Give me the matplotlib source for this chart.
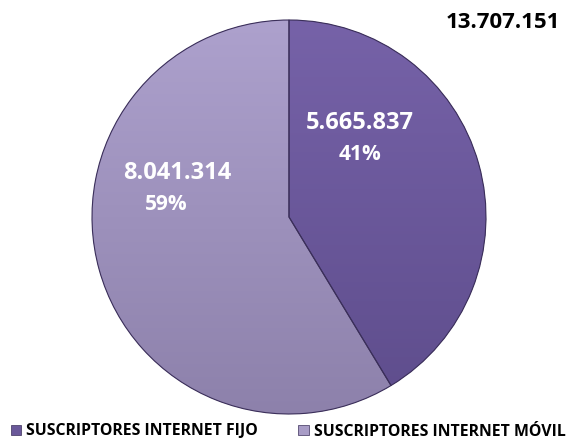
import matplotlib.pyplot as plt
import numpy as np
from matplotlib.colors import LinearSegmentedColormap
from matplotlib.patches import Wedge

labels = ['SUSCRIPTORES INTERNET FIJO', 'SUSCRIPTORES INTERNET MÓVIL']
subscribers = [5665837, 8041314]
top_colors = ['#7662a8', '#ada1cd']
bottom_colors = ['#5e4d8c', '#8d81ab']
legend_colors = ['#6a589a', '#a89cc6']

W, H = 568, 441
CX, CY, R = 289, H - 217, 197


def fmt(n):
    return '{:,}'.format(n).replace(',', '.')


plt.rcParams['font.family'] = ['Open Sans', 'DejaVu Sans']

fig = plt.figure(figsize=(W / 100, H / 100), dpi=100)
ax = fig.add_axes([0, 0, 1, 1])

total = sum(subscribers)
wedges, _ = ax.pie(subscribers, startangle=90, counterclock=False,
                   center=(CX, CY), radius=R, colors=bottom_colors,
                   wedgeprops=dict(linewidth=0))

# vertical gradient fill clipped to each slice, then a thin dark outline
grad = np.linspace(0, 1, 256).reshape(-1, 1)
for w, c0, c1 in zip(wedges, top_colors, bottom_colors):
    cmap = LinearSegmentedColormap.from_list('g', [c1, c0])
    im = ax.imshow(grad, cmap=cmap, origin='lower', aspect='auto',
                   extent=(CX - R, CX + R, CY - R, CY + R), zorder=2)
    im.set_clip_path(w)
    ax.add_patch(Wedge((CX, CY), R, w.theta1, w.theta2, fill=False,
                       edgecolor='#3b2f5a', linewidth=0.8, zorder=3))

ax.set_xlim(0, W)
ax.set_ylim(0, H)
ax.set_aspect('equal')
ax.axis('off')

# slice labels
label_pos = [((360, H - 123), (360, H - 155)), ((177, H - 173), (166, H - 204))]
for n, ((x1, y1), (x2, y2)) in zip(subscribers, label_pos):
    ax.text(x1, y1, fmt(n), color='white', fontsize=17, fontweight='bold',
            ha='center', va='center', zorder=5)
    ax.text(x2, y2, '{:.0f}%'.format(100 * n / total), color='white', fontsize=15,
            fontweight='bold', ha='center', va='center', zorder=5)

ax.text(503, H - 23, fmt(total), color='black', fontsize=16, fontweight='bold',
        ha='center', va='center')

handles = [plt.Rectangle((0, 0), 1, 1, facecolor=c, edgecolor='#3b2f5a', linewidth=0.5)
           for c in legend_colors]
ax.legend(handles, labels, ncol=2, loc='lower left', bbox_to_anchor=(1 / W, -8 / H),
          frameon=False, handlelength=0.65, handleheight=0.65, handletextpad=0.3,
          columnspacing=2.6, borderaxespad=0.2,
          prop=dict(family='Open Sans', weight='bold', size=11.4))

fig.savefig('out.png', dpi=100)
